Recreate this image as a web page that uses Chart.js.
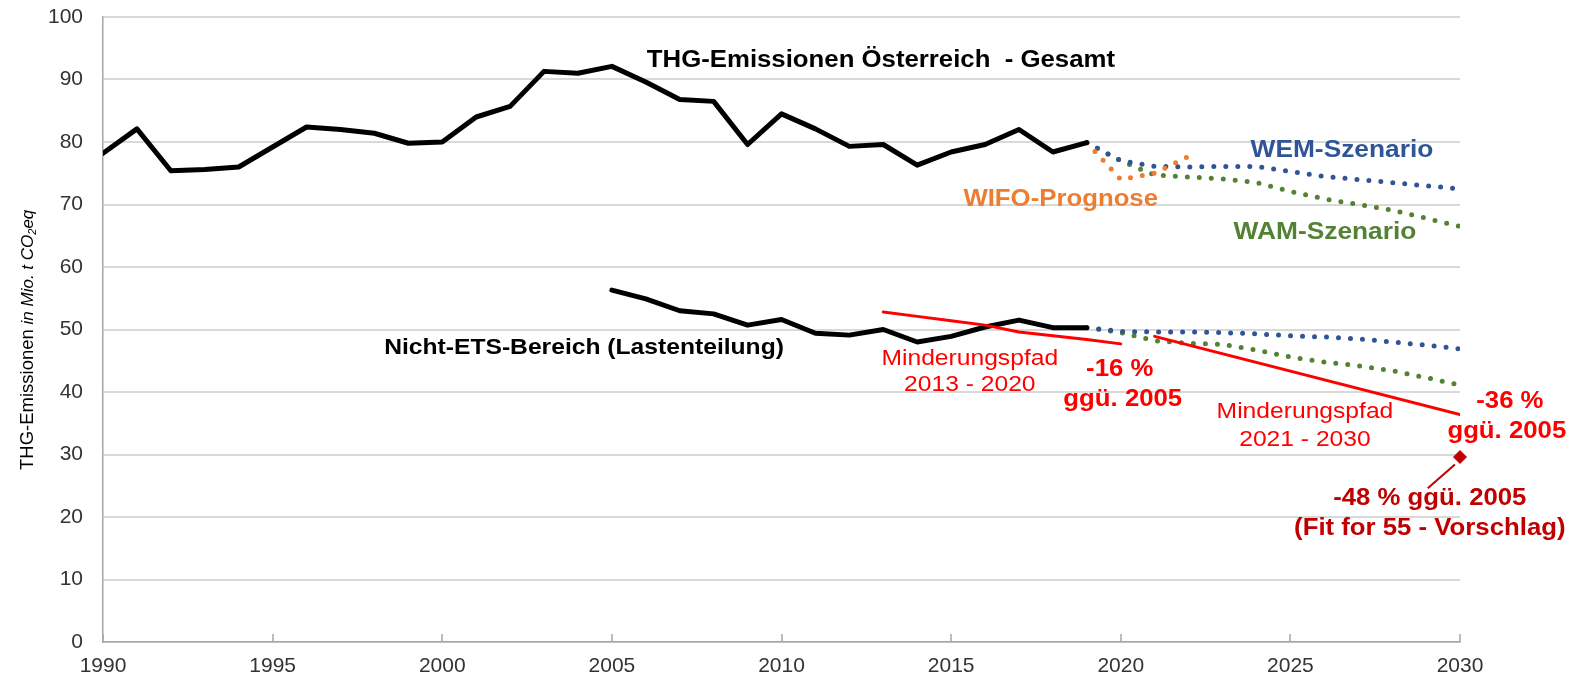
<!DOCTYPE html>
<html>
<head>
<meta charset="utf-8">
<script src="https://cdn.jsdelivr.net/npm/chart.js@4.4.1/dist/chart.umd.min.js"></script>
<style>
  html, body { margin: 0; padding: 0; background: #fff; }
</style>
</head>
<body>
<canvas id="thg" width="1572" height="679"></canvas>
<script>
const FONT = '"Liberation Sans", Arial, sans-serif'

// Gesamtemissionen (Inventur)
const histYears = [1990, 1991, 1992, 1993, 1994, 1995, 1996, 1997, 1998, 1999,
  2000, 2001, 2002, 2003, 2004, 2005, 2006, 2007, 2008, 2009,
  2010, 2011, 2012, 2013, 2014, 2015, 2016, 2017, 2018, 2019]
const totalHist = [78.2, 82.1, 75.4, 75.6, 76.0, 79.2, 82.4, 82.0, 81.4, 79.8,
  80.0, 84.0, 85.7, 91.3, 91.0, 92.1, 89.6, 86.8, 86.5, 79.6,
  84.5, 82.1, 79.3, 79.6, 76.3, 78.4, 79.6, 82.0, 78.4, 79.9]

// Nicht-ETS-Bereich
const nonEtsYears = [2005, 2006, 2007, 2008, 2009, 2010, 2011, 2012,
  2013, 2014, 2015, 2016, 2017, 2018, 2019]
const nonEtsHist = [56.3, 54.9, 53.0, 52.5, 50.7, 51.6, 49.4, 49.1,
  50.0, 48.0, 48.9, 50.4, 51.5, 50.3, 50.3]

// Szenarien
const scenYears = [2019, 2020, 2021, 2022, 2023, 2024, 2025, 2026, 2027, 2028, 2029, 2030]
const totalWem = [79.9, 77.0, 76.1, 76.0, 76.1, 76.1, 75.3, 74.5, 74.0, 73.5, 73.0, 72.5]
const totalWam = [79.9, 77.0, 74.7, 74.4, 74.1, 73.5, 72.1, 70.9, 70.0, 69.1, 67.8, 66.5]
const nonEtsWem = [50.3, 49.7, 49.6, 49.6, 49.5, 49.3, 49.0, 48.8, 48.5, 48.0, 47.5, 46.9]
const nonEtsWam = [50.3, 49.5, 48.2, 47.8, 47.6, 46.7, 45.6, 44.8, 44.2, 43.4, 42.3, 41.1]

const wifoYears = [2019, 2020, 2021, 2022]
const wifoTotal = [79.9, 74.0, 75.0, 77.7]

// Minderungspfade
const path1Years = [2013, 2014, 2015, 2016, 2017, 2018, 2019, 2020]
const path1 = [52.8, 52.1, 51.4, 50.7, 49.6, 49.0, 48.4, 47.7]
const path2Years = [2021, 2030]
const path2 = [48.9, 36.4]
const fitYears = [2030]
const fit55 = [29.6]

const xTicks = [1990, 1995, 2000, 2005, 2010, 2015, 2020, 2025, 2030]
const yTicks = [0, 10, 20, 30, 40, 50, 60, 70, 80, 90, 100]

const pts = (xs, ys) => xs.map((x, i) => ({ x: x, y: ys[i] }))

const BLUE = '#2F5597'
const GREEN = '#548235'
const ORANGE = '#ED7D31'
const RED = '#FF0000'
const DARKRED = '#C00000'

// Beschriftungen im Diagramm (x = Jahr, y = Wert)
const notes = [
  { t: 'THG-Emissionen Österreich  - Gesamt', x: 2012.93, y: 93.0, c: '#000', b: true, s: 23 },
  { t: 'WIFO-Prognose', x: 2018.23, y: 70.8, c: ORANGE, b: true, s: 23 },
  { t: 'WEM-Szenario', x: 2026.52, y: 78.6, c: BLUE, b: true, s: 23.5 },
  { t: 'WAM-Szenario', x: 2026.02, y: 65.5, c: GREEN, b: true, s: 23.5 },
  { t: 'Nicht-ETS-Bereich (Lastenteilung)', x: 2004.18, y: 47.1, c: '#000', b: true, s: 22 },
  { t: 'Minderungspfad', x: 2015.55, y: 45.3, c: RED, b: false, s: 22 },
  { t: '2013 - 2020', x: 2015.55, y: 41.2, c: RED, b: false, s: 22 },
  { t: '-16 %', x: 2019.97, y: 43.5, c: RED, b: true, s: 23 },
  { t: 'ggü. 2005', x: 2020.06, y: 38.7, c: RED, b: true, s: 23 },
  { t: 'Minderungspfad', x: 2025.43, y: 36.8, c: RED, b: false, s: 22 },
  { t: '2021 - 2030', x: 2025.43, y: 32.4, c: RED, b: false, s: 22 },
  { t: '-36 %', x: 2031.47, y: 38.5, c: RED, b: true, s: 23 },
  { t: 'ggü. 2005', x: 2031.38, y: 33.7, c: RED, b: true, s: 23 },
  { t: '-48 % ggü. 2005', x: 2029.11, y: 23.0, c: DARKRED, b: true, s: 23 },
  { t: '(Fit for 55 - Vorschlag)', x: 2029.11, y: 18.2, c: DARKRED, b: true, s: 23 }
]

const line = (label, data, color, width, order) => ({
  label: label, data: data, borderColor: color, backgroundColor: color,
  borderWidth: width, pointRadius: 0, tension: 0, order: order,
  borderJoinStyle: 'round', borderCapStyle: 'round'
})
const dots = (label, data, color, order) => ({
  label: label, data: data, borderColor: color, backgroundColor: color,
  borderWidth: 5, pointRadius: 0, tension: 0, order: order,
  borderDash: [0, 12], borderCapStyle: 'round'
})

const labelPlugin = {
  id: 'thgLabels',
  beforeDatasetsDraw(chart) {
    const { ctx, chartArea, scales: { x } } = chart
    ctx.save()
    ctx.strokeStyle = '#A6A6A6'
    ctx.lineWidth = 1.5
    xTicks.forEach(v => {
      const px = Math.round(x.getPixelForValue(v))
      ctx.beginPath()
      ctx.moveTo(px, chartArea.bottom)
      ctx.lineTo(px, chartArea.bottom - 8)
      ctx.stroke()
    })
    ctx.restore()
  },
  afterDatasetsDraw(chart) {
    const { ctx, scales: { x, y } } = chart
    ctx.save()
    // Hinweislinie zum Fit-for-55-Punkt
    ctx.strokeStyle = DARKRED
    ctx.lineWidth = 2
    ctx.beginPath()
    ctx.moveTo(x.getPixelForValue(2029.85), y.getPixelForValue(28.4))
    ctx.lineTo(x.getPixelForValue(2029.05), y.getPixelForValue(24.6))
    ctx.stroke()

    ctx.textAlign = 'center'
    ctx.textBaseline = 'middle'
    notes.forEach(n => {
      ctx.save()
      ctx.translate(x.getPixelForValue(n.x), y.getPixelForValue(n.y))
      ctx.scale(1.12, 1)
      ctx.font = (n.b ? 'bold ' : '') + n.s + 'px ' + FONT
      ctx.fillStyle = n.c
      ctx.fillText(n.t, 0, 0)
      ctx.restore()
    })
    ctx.restore()
  },
  afterDraw(chart) {
    // Achsentitel mit kursivem Zusatz und tiefgestellter 2
    const { ctx } = chart
    ctx.save()
    ctx.translate(28, 470)
    ctx.rotate(-Math.PI / 2)
    ctx.fillStyle = '#000'
    ctx.textAlign = 'left'
    ctx.textBaseline = 'middle'
    const parts = [
      ['THG-Emissionen', '18.5px ' + FONT, 0],
      [' in Mio. t CO', 'italic 17px ' + FONT, 0],
      ['2', 'italic 11px ' + FONT, 5],
      ['eq', 'italic 17px ' + FONT, 0]
    ]
    let pos = 0
    parts.forEach(([txt, font, dy]) => {
      ctx.font = font
      ctx.fillText(txt, pos, dy)
      pos += ctx.measureText(txt).width
    })
    ctx.restore()
  }
}

new Chart(document.getElementById('thg'), {
  type: 'line',
  data: {
    datasets: [
      { label: 'Fit for 55', data: pts(fitYears, fit55), showLine: false, clip: false,
        pointStyle: 'rectRot', pointRadius: 6.5, pointBackgroundColor: DARKRED,
        pointBorderColor: DARKRED, borderColor: DARKRED, order: 0 },
      line('Minderungspfad 2013-2020', pts(path1Years, path1), RED, 3, 1),
      line('Minderungspfad 2021-2030', pts(path2Years, path2), RED, 3, 1),
      line('Gesamt', pts(histYears, totalHist), '#000', 5, 2),
      line('Nicht-ETS', pts(nonEtsYears, nonEtsHist), '#000', 5, 2),
      dots('WIFO-Prognose', pts(wifoYears, wifoTotal), ORANGE, 3),
      dots('WEM gesamt', pts(scenYears, totalWem), BLUE, 4),
      dots('WEM Nicht-ETS', pts(scenYears, nonEtsWem), BLUE, 4),
      dots('WAM gesamt', pts(scenYears, totalWam), GREEN, 5),
      dots('WAM Nicht-ETS', pts(scenYears, nonEtsWam), GREEN, 5)
    ]
  },
  options: {
    responsive: false,
    animation: false,
    devicePixelRatio: 1,
    layout: { padding: { top: 17, right: 112, left: 0, bottom: 0 } },
    plugins: { legend: { display: false }, tooltip: { enabled: false } },
    scales: {
      x: {
        type: 'linear', min: 1990, max: 2030,
        afterBuildTicks: s => { s.ticks = xTicks.map(v => ({ value: v })) },
        afterFit: s => { s.height = 37; s.paddingLeft = 0; s.paddingRight = 0 },
        ticks: { callback: v => String(v), color: '#333', padding: 12,
          font: { family: FONT, size: 21 }, maxRotation: 0 },
        grid: { drawOnChartArea: false, drawTicks: false },
        border: { color: '#A6A6A6', width: 1.5 }
      },
      y: {
        min: 0, max: 100,
        afterBuildTicks: s => { s.ticks = yTicks.map(v => ({ value: v })) },
        afterFit: s => { s.width = 103; s.paddingTop = 0; s.paddingBottom = 0 },
        ticks: { color: '#333', padding: 20, font: { family: FONT, size: 21 } },
        grid: { color: '#D9D9D9', lineWidth: 2, drawTicks: false },
        border: { color: '#A6A6A6', width: 1.5 }
      }
    }
  },
  plugins: [labelPlugin]
})
</script>
</body>
</html>
